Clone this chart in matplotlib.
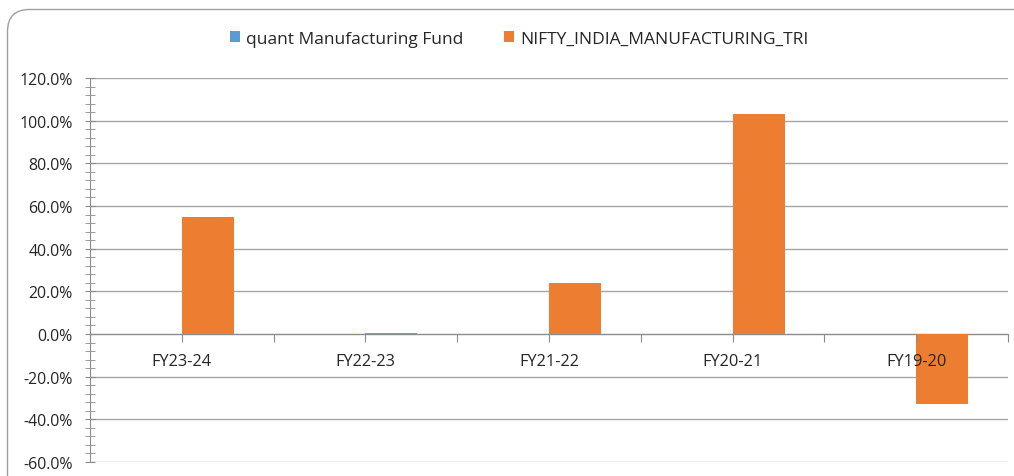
import matplotlib
matplotlib.use("Agg")
import matplotlib.pyplot as plt
import numpy as np
from matplotlib.patches import FancyBboxPatch, Patch
from matplotlib.ticker import MultipleLocator, FuncFormatter

categories = ["FY23-24", "FY22-23", "FY21-22", "FY20-21", "FY19-20"]
quant_fund = [0.0, 0.0, 0.0, 0.0, 0.0]
nifty_tri = [54.8, 0.5, 23.9, 103.1, -32.8]
series_names = ["quant Manufacturing Fund", "NIFTY_INDIA_MANUFACTURING_TRI"]

BLUE = "#5B9BD5"
ORANGE = "#ED7D31"
GRID = "#A6A6A6"
AX = "#8C8C8C"
TXT = "#262626"

plt.rcParams['font.family'] = ['Open Sans', 'DejaVu Sans']

W, H = 1014, 477
fig = plt.figure(figsize=(W / 100, H / 100), dpi=100)

# background frame
bg = fig.add_axes([0, 0, 1, 1], zorder=0)
bg.set_xlim(0, W)
bg.set_ylim(0, H)
bg.axis("off")
frame = FancyBboxPatch((7.5, -40), 1060, 467 + 40 - 0.5,
                       boxstyle="round,pad=0,rounding_size=22",
                       facecolor="white", edgecolor="#A0A0A0", linewidth=1.0)
bg.add_patch(frame)

ax = fig.add_axes([90 / W, (H - 463) / H, (1008 - 90) / W, (463 - 79) / H], zorder=1)
ax.patch.set_alpha(0)

x = np.arange(len(categories))
w = 0.283
ax.bar(x - w / 2, quant_fund, width=w, color=BLUE, zorder=3)
ax.bar(x + w / 2, nifty_tri, width=w, color=ORANGE, zorder=3)

ax.set_xlim(-0.5, len(categories) - 0.5)
ax.set_ylim(-60, 120)
ax.yaxis.set_major_locator(MultipleLocator(20))
ax.yaxis.set_minor_locator(MultipleLocator(4))
ax.yaxis.set_major_formatter(FuncFormatter(lambda v, p: f"{v:.1f}%"))
ax.grid(axis="y", which="major", color=GRID, linewidth=1.0, zorder=0)
ax.set_axisbelow(True)
ax.xaxis.set_zorder(4)

for s in ["top", "right"]:
    ax.spines[s].set_visible(False)
ax.spines["left"].set_color(AX)
ax.spines["bottom"].set_color(AX)
ax.spines["bottom"].set_position(("data", 0))
ax.spines["bottom"].set_zorder(2)

ax.tick_params(axis="y", which="both", direction="inout", length=7, color=AX,
               labelsize=11.4, labelcolor=TXT, pad=9)
ax.tick_params(axis="y", which="minor", length=7)

xt = np.arange(-0.5, len(categories), 0.5)
ax.set_xticks(xt)
labels = []
for v in xt:
    if abs(v - round(v)) < 1e-9 and 0 <= round(v) < len(categories):
        labels.append(categories[int(round(v))])
    else:
        labels.append("")
ax.set_xticklabels(labels)
ax.tick_params(axis="x", direction="out", length=6, color=AX, labelsize=11.8,
               labelcolor=TXT, pad=7.5)

handles = [Patch(facecolor=BLUE, edgecolor="none"), Patch(facecolor=ORANGE, edgecolor="none")]
fig.legend(handles, series_names, loc="center", bbox_to_anchor=(519 / W, (H - 40) / H),
           ncol=2, frameon=False, fontsize=12.5, handlelength=0.6, handleheight=0.6,
           handletextpad=0.35, columnspacing=2.3, labelcolor=TXT)

fig.savefig("out.png", dpi=100)
